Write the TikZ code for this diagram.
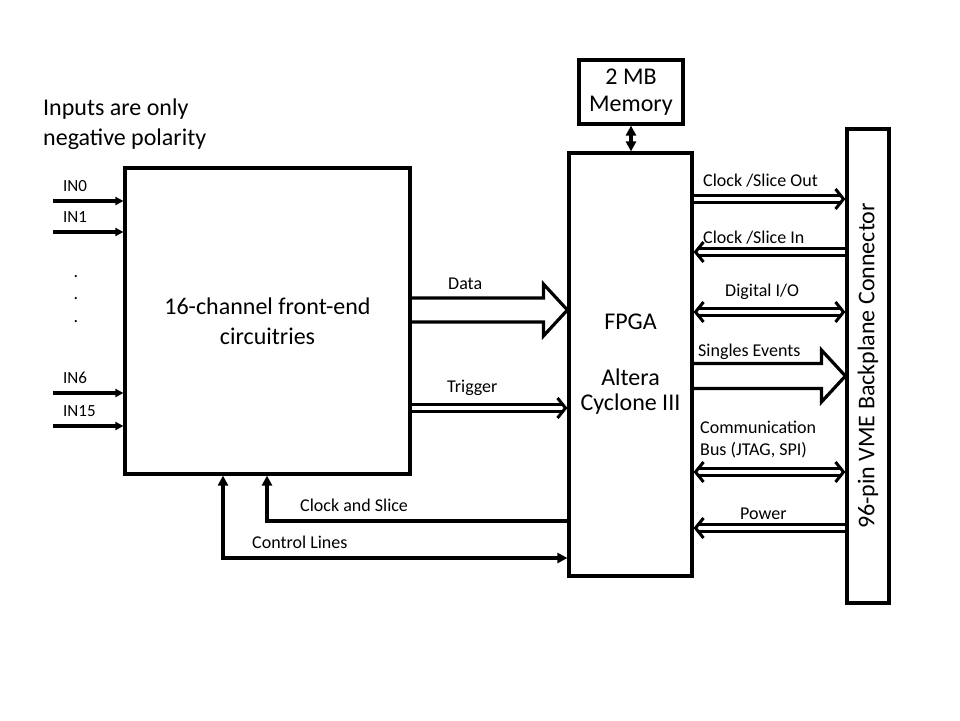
\documentclass[tikz,border=0pt]{standalone}
\usepackage{fontspec}
\setmainfont{Carlito}
\usetikzlibrary{arrows.meta,calc}

\tikzset{
  box/.style={draw, line width=3.2pt, inner sep=0pt},
  big/.style={font=\fontsize{24}{30}\selectfont},
  lbl/.style={font=\fontsize{18}{22}\selectfont, inner sep=0pt, anchor=base west},
  sig/.style={line width=3.2pt, ->},
  bus/.style={double, double distance=4pt, line width=3pt},
  hollow/.style={line width=3.2pt, line join=miter},
  chev/.tip={Straight Barb[length=8pt,width=20pt]},
  >={Triangle[length=10pt,width=10pt]}
}

\begin{document}
\begin{tikzpicture}[x=1pt,y=-1pt]
    \useasboundingbox (0,0) rectangle (960,720);
    \node[box, big, minimum width=285pt, minimum height=306pt, align=center] (fe) at (267.5,321) {16-channel front-end\\circuitries};
    \node[box, minimum width=123pt, minimum height=423pt, align=center, font=\fontsize{24}{25}\selectfont] (fpga) at (630.5,364.5) {FPGA\\[31pt]Altera\\Cyclone III};
    \node[box, minimum width=104pt, minimum height=64pt, align=center, font=\fontsize{24}{27}\selectfont] (mem) at (631,92) {2 MB\\Memory};
    \node[box, minimum width=42pt, minimum height=474pt] (vme) at (868,366) {};
    \node[big, rotate=90] (vmetxt) at (vme.center) {96-pin VME Backplane Connector};
    \node[big, anchor=west, align=left, inner sep=0pt] (note) at (43,124) {Inputs are only\\negative polarity};

    \coordinate (in0) at (53,201);
    \coordinate (in1) at (53,232);
    \coordinate (in6) at (53,393);
    \coordinate (in15) at (53,426);
    \foreach \p/\t in {in0/IN0, in1/IN1, in6/IN6, in15/IN15} {
      \draw[sig, -{Triangle[length=8pt,width=8pt]}] (\p) -- (\p -| fe.west);
      \node[lbl, font=\fontsize{17}{20}\selectfont] (l\p) at ($(\p)+(10,-10)$) {\t};
    }
    \foreach \y [count=\i] in {277,299,322}
      \node[lbl, anchor=base] (dot\i) at (76,\y) {.};

    \draw[sig, <->] (mem.south) -- (mem.south |- fpga.north);

    \coordinate (ydata) at (0,310);
    \coordinate (ytrig) at (0,408);
    \draw[hollow] ($(fe.east |- ydata)+(0,-12)$) -- ($(fpga.west |- ydata)+(-24,-12)$) -- ++(0,-14)
      -- (fpga.west |- ydata) -- ($(fpga.west |- ydata)+(-24,26)$) -- ++(0,-14) -- ($(fe.east |- ydata)+(0,12)$);
    \node[lbl] (ldata) at (448,289) {Data};
    \draw[bus, -chev] (fe.east |- ytrig) -- (fpga.west |- ytrig);
    \node[lbl] (ltrig) at (447,392) {Trigger};

    \coordinate (xclk) at (267,0);
    \coordinate (yclk) at (0,521);
    \coordinate (xctl) at (223,0);
    \coordinate (yctl) at (0,558);
    \draw[sig] (fpga.west |- yclk) -- (xclk |- yclk) -- (xclk |- fe.south);
    \node[lbl] (lclk) at (300,511) {Clock and Slice};
    \draw[sig, <->] (xctl |- fe.south) -- (xctl |- yctl) -- (fpga.west |- yctl);
    \node[lbl] (lctl) at (252,548) {Control Lines};

    \coordinate (yout) at (0,199);
    \coordinate (yin) at (0,252);
    \coordinate (ydio) at (0,312);
    \coordinate (ysgl) at (0,376);
    \coordinate (ycom) at (0,472);
    \coordinate (ypow) at (0,528);
    \draw[bus, -chev] (fpga.east |- yout) -- (vme.west |- yout);
    \node[lbl] (lout) at (703,186) {Clock /Slice Out};
    \draw[bus, chev-] (fpga.east |- yin) -- (vme.west |- yin);
    \node[lbl] (lin) at (703,243) {Clock /Slice In};
    \draw[bus, chev-chev] (fpga.east |- ydio) -- (vme.west |- ydio);
    \node[lbl] (ldio) at (725,296) {Digital I/O};
    \draw[hollow] ($(fpga.east |- ysgl)+(0,-12.5)$) -- ($(vme.west |- ysgl)+(-24,-12.5)$) -- ++(0,-13.5)
      -- (vme.west |- ysgl) -- ($(vme.west |- ysgl)+(-24,26)$) -- ++(0,-13.5) -- ($(fpga.east |- ysgl)+(0,12.5)$);
    \node[lbl] (lsgl) at (698,356) {Singles Events};
    \draw[bus, chev-chev] (fpga.east |- ycom) -- (vme.west |- ycom);
    \node[lbl, anchor=west, align=left] (lcom) at (700,439.5) {Communication\\Bus (JTAG, SPI)};
    \draw[bus, chev-] (fpga.east |- ypow) -- (vme.west |- ypow);
    \node[lbl] (lpow) at (740,519) {Power};
\end{tikzpicture}
\end{document}
